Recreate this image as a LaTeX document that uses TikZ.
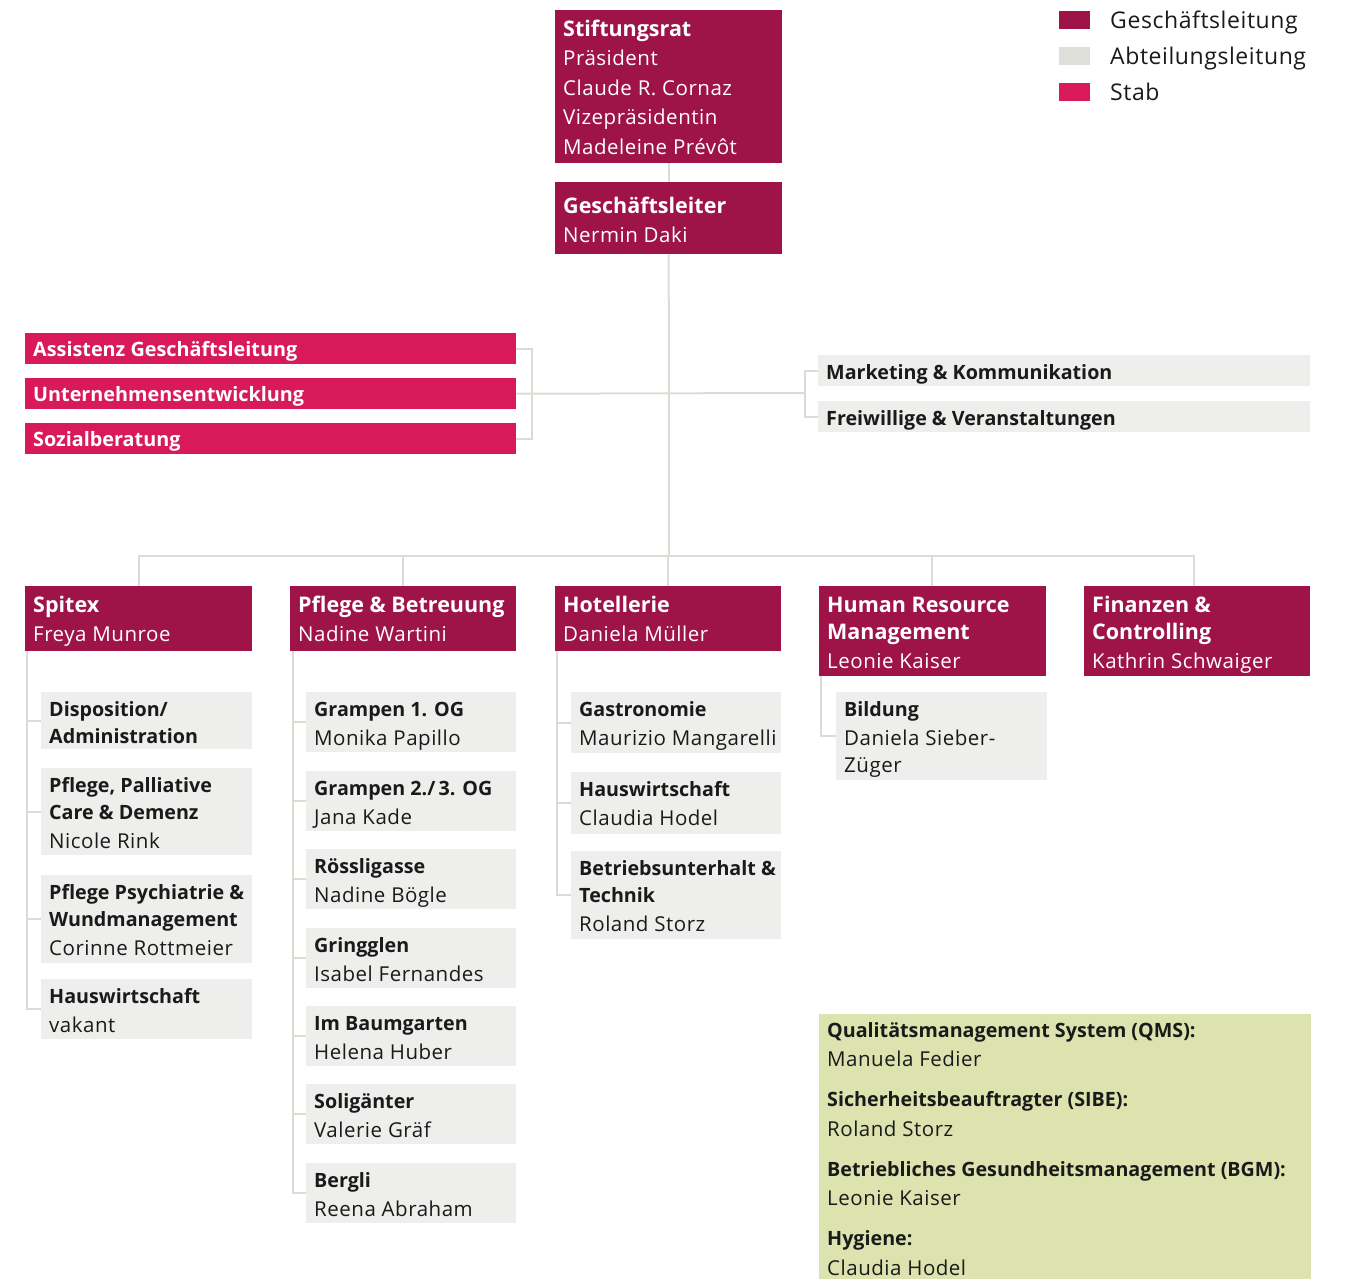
\documentclass[tikz,border=0pt]{standalone}
\usepackage{fontspec}
\setmainfont{Open Sans}
\newfontfamily\regf[LetterSpace=2.5]{Open Sans}
\definecolor{gl}{HTML}{9E1448}
\definecolor{stab}{HTML}{D81A5A}
\definecolor{abt}{HTML}{EEEEEC}
\definecolor{abtleg}{HTML}{DFDFDA}
\definecolor{conn}{HTML}{DCDCD4}
\definecolor{qms}{HTML}{DDE3AE}
\definecolor{ink}{HTML}{1A1A1A}
\newcommand\Tt[1]{{\fontsize{21.5}{29.5}\selectfont\normalfont\bfseries #1}}
\newcommand\Ts[1]{{\fontsize{19.8}{29.5}\selectfont\normalfont\bfseries #1}}
\newcommand\Tb[1]{{\fontsize{19.7}{29.5}\selectfont\normalfont\bfseries #1}}
\newcommand\orgbox[8]{%
  \node[#6, anchor=north west, minimum width=#4pt, minimum height=#5pt, inner sep=0pt] (#1) at (#2,#3) {};
  \node[anchor=north west, #7] at ([xshift=8pt,yshift=-5.4pt]#1.north west) {\strut#8};}
\tikzset{
  glbox/.style={fill=gl, draw=none},
  stabbox/.style={fill=stab, draw=none},
  abtbox/.style={fill=abt, draw=none},
  qmsbox/.style={fill=qms, draw=none},
  wtext/.style={text=white, inner sep=0pt, align=left, font=\regf\fontsize{20.5}{29.5}\selectfont},
  ktext/.style={text=ink, inner sep=0pt, align=left, font=\regf\fontsize{20.5}{29.5}\selectfont},
  conline/.style={draw=conn, line width=2pt},
  legsq/.style={anchor=north west, minimum width=31pt, minimum height=18pt, inner sep=0pt, draw=none},
  legtext/.style={anchor=base west, inner sep=0pt, text=ink, font=\regf\fontsize{23}{26}\selectfont},
}
\begin{document}
\begin{tikzpicture}[x=1pt,y=-1pt]
\useasboundingbox (0,0) rectangle (1345,1279);
% legend
\node[legsq, fill=gl] (lg1) at (1059,11) {};
\node[legsq, fill=abtleg] (lg2) at (1059,47) {};
\node[legsq, fill=stab] (lg3) at (1059,83) {};
\node[legtext] at (1110,28.5) {Geschäftsleitung};
\node[legtext] at (1110,64.5) {Abteilungsleitung};
\node[legtext] at (1110,101) {Stab};
% top
\orgbox{st}{555}{10}{227}{153}{glbox}{wtext}{\Tt{Stiftungsrat}\\Präsident\\Claude R. Cornaz\\Vizepräsidentin\\Madeleine Prévôt}
\orgbox{gf}{555}{182}{227}{72}{glbox}{wtext, yshift=-5pt}{\Tt{Geschäftsleiter}\\[-0.5pt]Nermin Daki}
% stab
\orgbox{ass}{25}{333}{491}{31}{stabbox}{wtext, yshift=2.5pt}{\Ts{Assistenz Geschäftsleitung}}
\orgbox{ue}{25}{378}{491}{31}{stabbox}{wtext, yshift=2.5pt}{\Ts{Unternehmensentwicklung}}
\orgbox{soz}{25}{423}{491}{31}{stabbox}{wtext, yshift=2.5pt}{\Ts{Sozialberatung}}
\orgbox{mk}{818}{355}{492}{31}{abtbox}{ktext, yshift=2pt}{\Tb{Marketing \& Kommunikation}}
\orgbox{fv}{818}{401}{492}{31}{abtbox}{ktext, yshift=2pt}{\Tb{Freiwillige \& Veranstaltungen}}
% departments
\orgbox{spitex}{25}{586}{227}{65}{glbox}{wtext}{\Tt{Spitex}\\Freya Munroe}
\orgbox{pflege}{290}{586}{226}{65}{glbox}{wtext}{\Tt{Pflege \& Betreuung}\\Nadine Wartini}
\orgbox{hotel}{555}{586}{226}{65}{glbox}{wtext}{\Tt{Hotellerie}\\Daniela Müller}
\orgbox{hr}{819}{586}{227}{90}{glbox}{wtext}{\Tt{Human Resource}\\[-2.5pt]\Tt{Management}\\Leonie Kaiser}
\orgbox{fin}{1084}{586}{226}{90}{glbox}{wtext}{\Tt{Finanzen \&}\\[-2.5pt]\Tt{Controlling}\\Kathrin Schwaiger}
% Spitex subs
\orgbox{sp1}{41}{692}{211}{57}{abtbox}{ktext, yshift=2pt}{\Tb{Disposition/}\\[-2.5pt]\Tb{Administration}}
\orgbox{sp2}{41}{768}{211}{87}{abtbox}{ktext, yshift=2pt}{\Tb{Pflege, Palliative}\\[-2.5pt]\Tb{Care \& Demenz}\\Nicole Rink}
\orgbox{sp3}{41}{875}{211}{88}{abtbox}{ktext, yshift=2pt}{\Tb{Pflege Psychiatrie \&}\\[-2.5pt]\Tb{Wundmanagement}\\Corinne Rottmeier}
\orgbox{sp4}{41}{979}{211}{60}{abtbox}{ktext, yshift=2pt}{\Tb{Hauswirtschaft}\\vakant}
% Pflege subs
\orgbox{pf1}{306}{692}{210}{60}{abtbox}{ktext, yshift=2pt}{\Tb{Grampen 1. OG}\\Monika Papillo}
\orgbox{pf2}{306}{771}{210}{60}{abtbox}{ktext, yshift=2pt}{\Tb{Grampen 2./\,3. OG}\\Jana Kade}
\orgbox{pf3}{306}{849}{210}{60}{abtbox}{ktext, yshift=2pt}{\Tb{Rössligasse}\\Nadine Bögle}
\orgbox{pf4}{306}{928}{210}{60}{abtbox}{ktext, yshift=2pt}{\Tb{Gringglen}\\Isabel Fernandes}
\orgbox{pf5}{306}{1006}{210}{60}{abtbox}{ktext, yshift=2pt}{\Tb{Im Baumgarten}\\Helena Huber}
\orgbox{pf6}{306}{1084}{210}{60}{abtbox}{ktext, yshift=2pt}{\Tb{Soligänter}\\Valerie Gräf}
\orgbox{pf7}{306}{1163}{210}{60}{abtbox}{ktext, yshift=2pt}{\Tb{Bergli}\\Reena Abraham}
% Hotellerie subs
\orgbox{ho1}{571}{692}{210}{61}{abtbox}{ktext, yshift=2pt}{\Tb{Gastronomie}\\Maurizio Mangarelli}
\orgbox{ho2}{571}{772}{210}{62}{abtbox}{ktext, yshift=2pt}{\Tb{Hauswirtschaft}\\Claudia Hodel}
\orgbox{ho3}{571}{851}{210}{88}{abtbox}{ktext, yshift=2pt}{\Tb{Betriebsunterhalt \&}\\[-2.5pt]\Tb{Technik}\\Roland Storz}
% HR sub
\orgbox{hr1}{836}{692}{211}{88}{abtbox}{ktext, yshift=2pt}{\Tb{Bildung}\\Daniela Sieber-\\[-2.5pt]Züger}
% QMS
\orgbox{qm}{819}{1014}{492}{265}{qmsbox}{ktext, yshift=3pt}{\Tb{Qualitätsmanagement System (QMS):}\\Manuela Fedier\\[10.5pt]\Tb{Sicherheitsbeauftragter (SIBE):}\\Roland Storz\\[10.5pt]\Tb{Betriebliches Gesundheitsmanagement (BGM):}\\Leonie Kaiser\\[10.5pt]\Tb{Hygiene:}\\Claudia Hodel}
% connectors
\draw[conline] (st.south) -- (gf.north);
\coordinate (bus) at (669,556);
\draw[conline] (gf.south) -- (bus);
\coordinate (lb) at (532,393);
\coordinate (rb) at (805,393);
\draw[conline] (ass.east) -| (lb);
\draw[conline] (soz.east) -| (lb);
\draw[conline] (ue.east) -- (rb);
\draw[conline] (mk.west) -| (rb);
\draw[conline] (fv.west) -| (rb);
\draw[conline] (spitex.north) |- (bus);
\draw[conline] (pflege.north) |- (bus);
\draw[conline] (hotel.north) -- (hotel.north |- bus);
\draw[conline] ([xshift=-1pt]hr.north) |- (bus);
\draw[conline] ([xshift=-3pt]fin.north) |- (bus);
\foreach \s in {sp1,sp2,sp3,sp4}{\draw[conline] ([xshift=1.5pt]spitex.south west) |- (\s.west);}
\foreach \s in {pf1,pf2,pf3,pf4,pf5,pf6,pf7}{\draw[conline] ([xshift=2.5pt]pflege.south west) |- (\s.west);}
\foreach \s in {ho1,ho2,ho3}{\draw[conline] ([xshift=1.5pt]hotel.south west) |- (\s.west);}
\draw[conline] ([xshift=1.5pt]hr.south west) |- (hr1.west);
\end{tikzpicture}
\end{document}
